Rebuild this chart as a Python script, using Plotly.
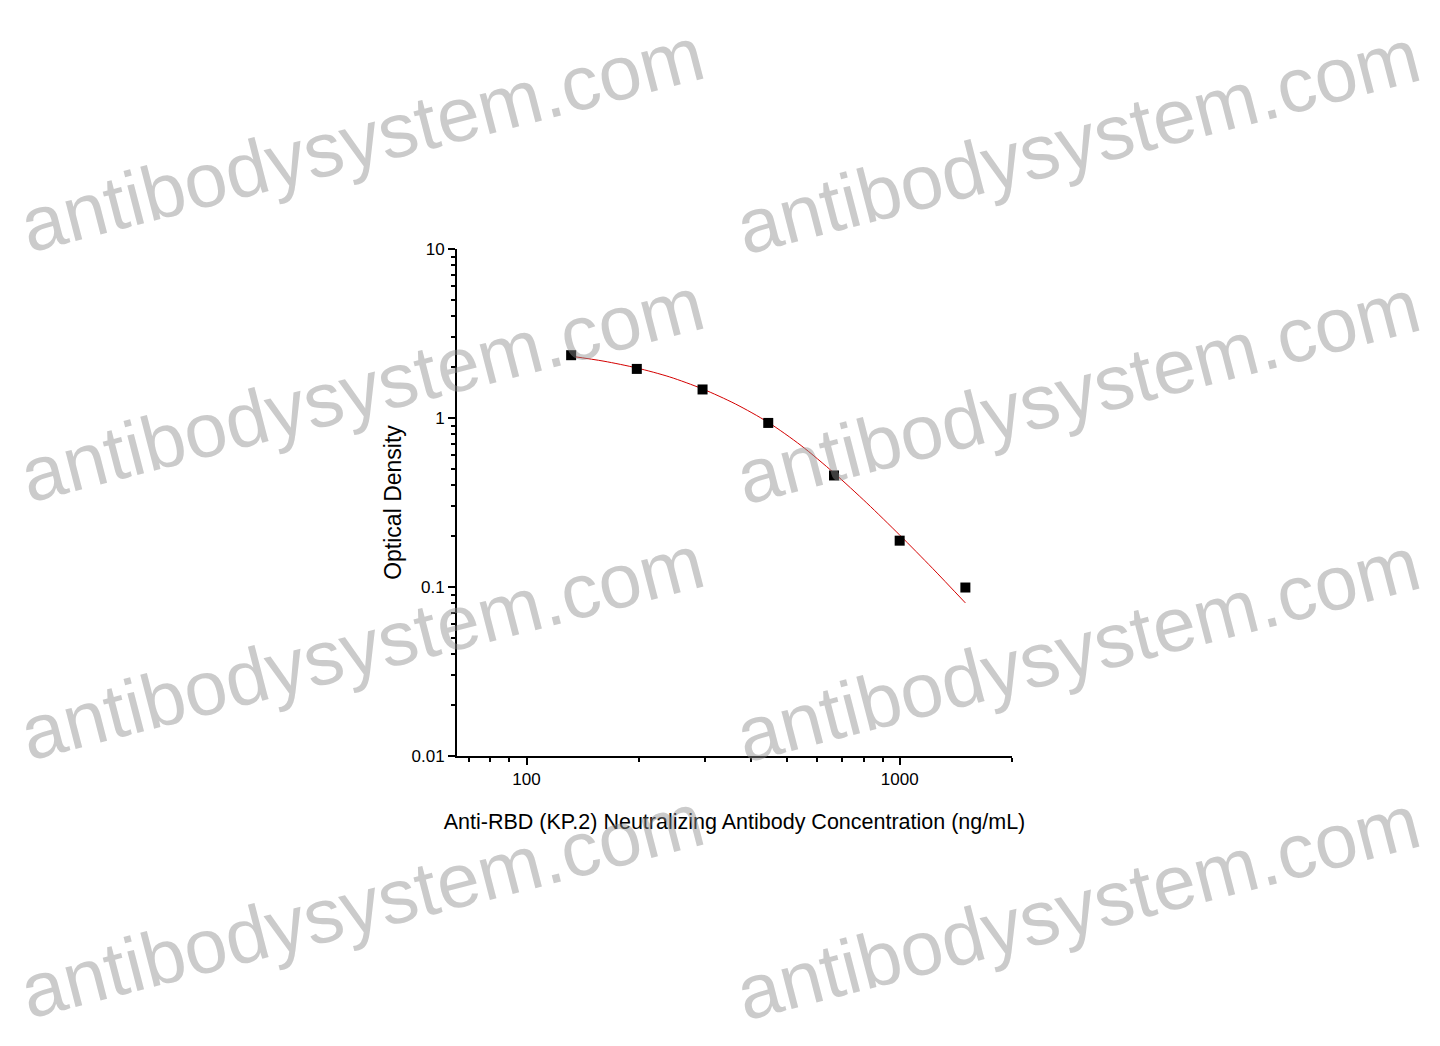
import plotly.graph_objects as go

# ---- data ----
concentration = [131.7, 197.5, 296.3, 444.4, 666.7, 1000, 1500]
optical_density = [2.353, 1.952, 1.475, 0.935, 0.457, 0.188, 0.0993]

fit_concentration = [131.7, 161.3, 197.5, 241.9, 296.3, 362.9, 444.4, 544.3, 666.7, 816.5, 1000, 1224.7, 1500]
fit_density = [2.321, 2.168, 1.977, 1.750, 1.486, 1.211, 0.942, 0.687, 0.473, 0.314, 0.203, 0.129, 0.0805]

x_tickvals = [100, 1000]
x_ticklabels = ["100", "1000"]
x_minor_ticks = [70, 80, 90, 200, 300, 400, 500, 600, 700, 800, 900, 2000]
y_tickvals = [0.01, 0.1, 1, 10]
y_ticklabels = ["0.01", "0.1", "1", "10"]
y_minor_ticks = [0.02, 0.03, 0.04, 0.05, 0.06, 0.07, 0.08, 0.09,
                 0.2, 0.3, 0.4, 0.5, 0.6, 0.7, 0.8, 0.9,
                 2, 3, 4, 5, 6, 7, 8, 9]

x_title = "Anti-RBD (KP.2) Neutralizing Antibody Concentration (ng/mL)"
y_title = "Optical Density"
watermark = "antibodysystem.com"

# ---- figure geometry (page has an 8px body margin) ----
W, H = 1432, 1038
L, R, T, B = 449, 1004, 241, 748

fig = go.Figure()

fig.add_trace(go.Scatter(
    x=fit_concentration, y=fit_density, mode="lines",
    line=dict(color="#d40000", width=1, shape="spline", smoothing=0.8),
    hoverinfo="skip", showlegend=False,
))
fig.add_trace(go.Scatter(
    x=concentration, y=optical_density, mode="markers",
    marker=dict(symbol="square", size=10, color="black"),
    showlegend=False,
))

font_main = "Liberation Sans, Arial"

fig.update_xaxes(
    type="log", range=[1.8137, 3.30103],
    showgrid=False, zeroline=False,
    showline=True, linecolor="black", linewidth=2,
    ticks="outside", ticklen=7, tickwidth=1.5, tickcolor="black",
    tickvals=x_tickvals, ticktext=x_ticklabels,
    tickfont=dict(family=font_main, size=17, color="black"),
    minor=dict(ticks="outside", ticklen=4, tickwidth=1.5, tickcolor="black",
               tickvals=x_minor_ticks),
    title=dict(text=x_title, font=dict(family=font_main, size=21.5, color="black"), standoff=26),
)
fig.update_yaxes(
    type="log", range=[-2, 1],
    showgrid=False, zeroline=False,
    showline=True, linecolor="black", linewidth=2,
    ticks="outside", ticklen=7, tickwidth=1.5, tickcolor="black",
    tickvals=y_tickvals, ticktext=y_ticklabels,
    tickfont=dict(family=font_main, size=17, color="black"),
    minor=dict(ticks="outside", ticklen=4, tickwidth=1.5, tickcolor="black",
               tickvals=y_minor_ticks),
    title=dict(text=y_title, font=dict(family=font_main, size=23, color="black"), standoff=3),
)

# watermark overlay (centres in figure pixels)
wm_centers_px = [(354, 131), (1070, 133), (354, 381), (1070, 383),
                 (354, 639), (1070, 641), (354, 897), (1070, 899)]
for cx, cy in wm_centers_px:
    fig.add_annotation(
        text=watermark, xref="paper", yref="paper",
        x=(cx - L) / (R - L), y=(B - cy) / (B - T),
        xanchor="center", yanchor="middle", showarrow=False,
        textangle=-14.5, borderpad=0,
        font=dict(family=font_main, size=77, color="rgba(140,140,140,0.45)"),
    )

fig.update_layout(
    width=W, height=H,
    margin=dict(l=L, r=W - R, t=T, b=H - B, pad=0),
    paper_bgcolor="white", plot_bgcolor="white",
    showlegend=False,
)

fig.write_html("out.html")
